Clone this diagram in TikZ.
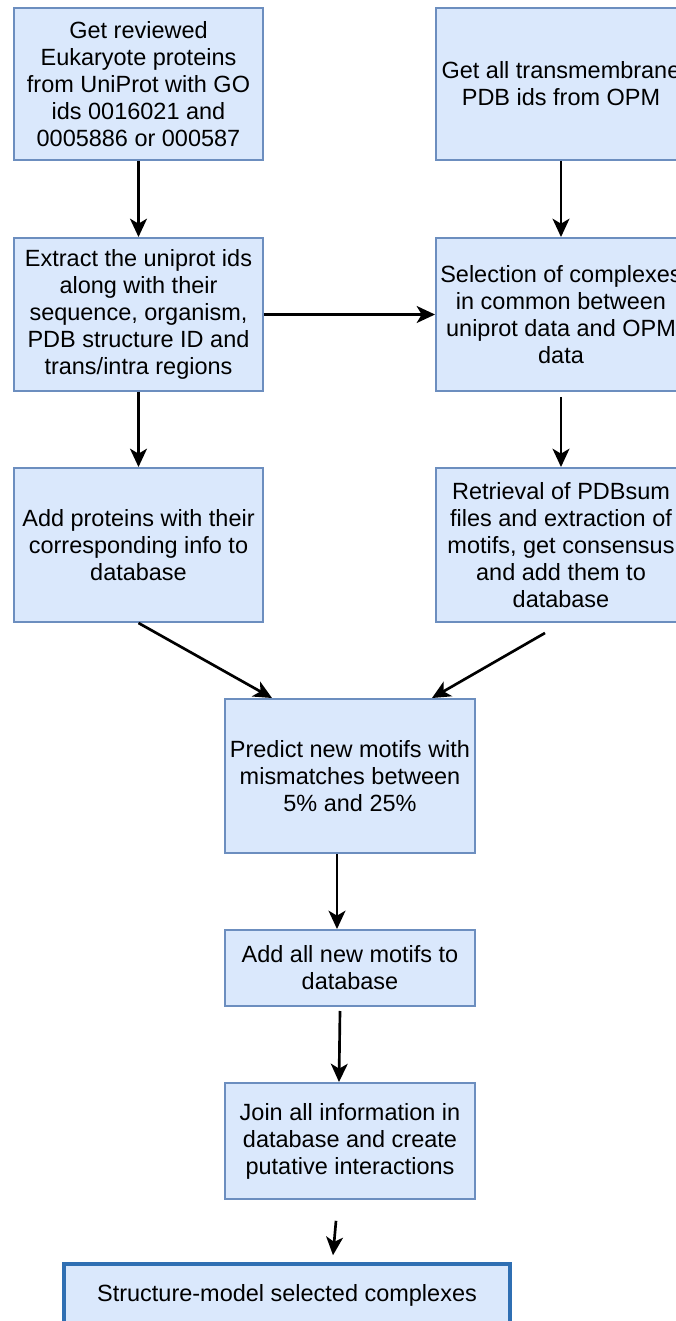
\documentclass[tikz,border=0pt]{standalone}
\usepackage{fontspec}
\setmainfont{Liberation Sans}
\usetikzlibrary{arrows.meta}
\definecolor{boxfill}{HTML}{DAE8FC}
\definecolor{boxline}{HTML}{6C8EBF}
\definecolor{endline}{HTML}{2F6FB3}
\tikzset{
  stepbox/.style={draw=boxline, fill=boxfill, line width=1.4pt, align=center,
    minimum width=6.225cm, minimum height=3.8cm, inner sep=0pt,
    font=\fontsize{16.7}{19.2}\selectfont},
  flow/.style={-{Stealth[length=13pt,width=12pt,inset=3.5pt]}, line width=1.9pt}
}
\begin{document}
\begin{tikzpicture}
            \useasboundingbox (0,0) rectangle (16.9,-33.025);
            \node[stepbox] (uniprot) at (3.4625,-2.1) {Get reviewed\\Eukaryote proteins\\from UniProt with GO\\ids 0016021 and\\0005886 or 000587};
            \node[stepbox, minimum width=6.25cm] (opm) at (14.025,-2.1) {Get all transmembrane\\PDB ids from OPM};
            \node[stepbox, minimum height=3.825cm] (extract) at (3.4625,-7.8625) {Extract the uniprot ids\\along with their\\sequence, organism,\\PDB structure ID and\\trans/intra regions};
            \node[stepbox, minimum width=6.25cm, minimum height=3.825cm] (common) at (14.025,-7.8625) {Selection of complexes\\in common between\\uniprot data and OPM\\data};
            \node[stepbox, minimum height=3.85cm] (addprot) at (3.4625,-13.625) {Add proteins with their\\corresponding info to\\database};
            \node[stepbox, minimum width=6.25cm, minimum height=3.85cm] (pdbsum) at (14.025,-13.625) {Retrieval of PDBsum\\files and extraction of\\motifs, get consensus\\and add them to\\database};
            \node[stepbox, minimum width=6.25cm, minimum height=3.85cm] (predict) at (8.75,-19.4) {Predict new motifs with\\mismatches between\\5\% and 25\%};
            \node[stepbox, minimum width=6.25cm, minimum height=1.9cm] (addmotif) at (8.75,-24.2) {Add all new motifs to\\database};
            \node[stepbox, minimum width=6.25cm, minimum height=2.9cm] (join) at (8.75,-28.525) {Join all information in\\database and create\\putative interactions};
            \node[stepbox, draw=endline, line width=2.8pt, minimum width=11.15cm, minimum height=1.55cm] (model) at (7.175,-32.375) {Structure-model selected complexes};
            % arrows
            \draw[flow] (uniprot.south) -- (extract.north);
            \draw[flow] (opm.south) -- (common.north);
            \draw[flow] (extract.east) -- (common.west);
            \draw[flow] (extract.south) -- (addprot.north);
            \draw[flow] ([yshift=-0.12cm]common.south) -- (pdbsum.north);
            \draw[flow] (addprot.south) -- ([xshift=1.2cm]predict.north west);
            \draw[flow] ([xshift=-0.4cm,yshift=-0.25cm]pdbsum.south) -- ([xshift=-1.1cm]predict.north east);
            \draw[flow] ([xshift=-0.325cm]predict.south) -- ([xshift=-0.325cm]addmotif.north);
            \draw[flow] ([xshift=-0.25cm,yshift=-0.1cm]addmotif.south) -- ([xshift=-0.275cm]join.north);
            \draw[flow] ([xshift=-0.35cm,yshift=-0.52cm]join.south) -- ([xshift=1.15cm,yshift=0.17cm]model.north);
        \end{tikzpicture}
\end{document}
